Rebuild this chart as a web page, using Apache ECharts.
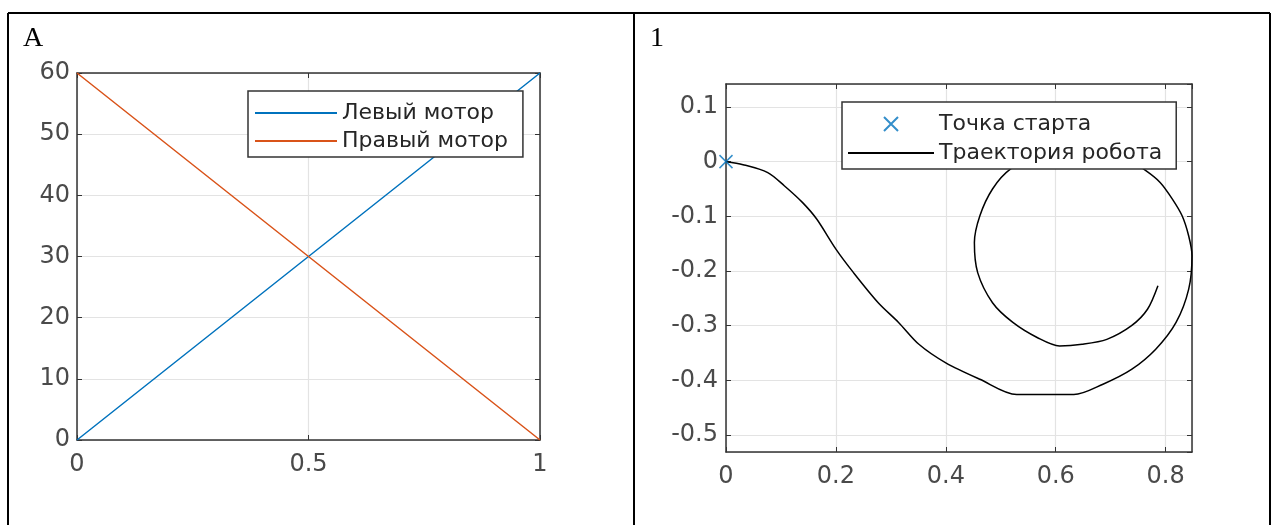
<!DOCTYPE html>
<html>
<head>
<meta charset="utf-8">
<script src="https://cdn.jsdelivr.net/npm/echarts@6/dist/echarts.min.js"></script>
<style>
  html, body { margin: 0; padding: 0; background: #fff; }
  #main { width: 1274px; height: 525px; }
</style>
</head>
<body>
<div id="main"></div>
<script>
// левый график: скорости моторов
var motorT = [0, 0.25, 0.5, 0.75, 1];
var leftMotor = [0, 15, 30, 45, 60];
var rightMotor = [60, 45, 30, 15, 0];

// правый график: траектория робота
var pathX = [0, 0.031, 0.076, 0.106, 0.139, 0.165, 0.2, 0.232, 0.277, 0.314, 0.351, 0.4, 0.462, 0.529,
  0.574, 0.633, 0.686, 0.738, 0.782, 0.819, 0.842, 0.848, 0.842, 0.83, 0.812, 0.79, 0.764, 0.72,
  0.645, 0.57, 0.518, 0.485, 0.462, 0.452, 0.458, 0.485, 0.522, 0.567, 0.607, 0.648, 0.693, 0.738,
  0.767, 0.786];
var pathY = [0, -0.0055, -0.02, -0.044, -0.0745, -0.105, -0.16, -0.203, -0.258, -0.294, -0.334, -0.368,
  -0.398, -0.426, -0.426, -0.426, -0.407, -0.38, -0.343, -0.294, -0.233, -0.172, -0.136, -0.099, -0.068,
  -0.038, -0.0165, 0.012, 0.028, 0.012, -0.0134, -0.05, -0.099, -0.148, -0.203, -0.258, -0.294, -0.322,
  -0.337, -0.334, -0.325, -0.3, -0.27, -0.227];
var startX = [0];
var startY = [0];

var legendLeft = ['Левый мотор', 'Правый мотор'];
var legendRight = ['Точка старта', 'Траектория робота'];

var font = 'DejaVu Sans';
var axisColor = '#333';
var labelColor = '#4a4a4a';
var gridColor = '#e3e3e3';
var tickFont = 24;

function mainAxis(idx, min, max, interval, pos, extra) {
  var a = {
    type: 'value', gridIndex: idx, min: min, max: max, position: pos,
    axisLine: { show: true, onZero: false, lineStyle: { color: axisColor, width: 1.5 } },
    axisTick: { show: true, inside: true, length: 5, lineStyle: { color: axisColor } },
    axisLabel: { color: labelColor, fontFamily: font, fontSize: tickFont, margin: pos === 'bottom' ? 13 : 7,
      showMinLabel: true, showMaxLabel: true },
    splitLine: { show: true, lineStyle: { color: gridColor, width: 1.2 } }
  };
  if (interval) a.interval = interval;
  return Object.assign(a, extra || {});
}
function boxAxis(idx, min, max, interval, pos, extra) {
  var a = {
    type: 'value', gridIndex: idx, min: min, max: max, position: pos,
    axisLine: { show: true, onZero: false, lineStyle: { color: axisColor, width: 1.5 } },
    axisTick: { show: true, inside: true, length: 5, lineStyle: { color: axisColor } },
    axisLabel: { show: false },
    splitLine: { show: false }
  };
  if (interval) a.interval = interval;
  return Object.assign(a, extra || {});
}
// в легенде у линий нет маркера
function lineItem(name) {
  return { name: name, itemStyle: { opacity: 0 } };
}

var chart = echarts.init(document.getElementById('main'));
chart.setOption({
  backgroundColor: '#fff',
  animation: false,
  title: [
    { text: 'A', left: 18, top: 20, textStyle: { fontFamily: 'Liberation Serif', fontSize: 28, fontWeight: 'normal', color: '#000' } },
    { text: '1', left: 645, top: 20, textStyle: { fontFamily: 'Liberation Serif', fontSize: 28, fontWeight: 'normal', color: '#000' } }
  ],
  graphic: [
    { type: 'line', shape: { x1: 8, y1: 13, x2: 1270, y2: 13 }, style: { stroke: '#000', lineWidth: 2 } },
    { type: 'line', shape: { x1: 8, y1: 13, x2: 8, y2: 525 }, style: { stroke: '#000', lineWidth: 2 } },
    { type: 'line', shape: { x1: 634, y1: 13, x2: 634, y2: 525 }, style: { stroke: '#000', lineWidth: 2 } },
    { type: 'line', shape: { x1: 1270, y1: 13, x2: 1270, y2: 525 }, style: { stroke: '#000', lineWidth: 2 } }
  ],
  grid: [
    { left: 77, top: 73, width: 463, height: 367 },
    { left: 726, top: 84, width: 466, height: 368 }
  ],
  legend: [
    {
      data: legendLeft.map(lineItem), orient: 'vertical', left: 248, top: 91,
      itemWidth: 82, itemHeight: 14, itemGap: 2,
      padding: [9, 15, 3, 6],
      borderColor: axisColor, borderWidth: 1.5, backgroundColor: '#fff',
      textStyle: { fontFamily: font, fontSize: 22, color: '#262626', lineHeight: 26 }
    },
    {
      data: [legendRight[0], lineItem(legendRight[1])], orient: 'vertical', left: 842, top: 102,
      itemWidth: 86, itemHeight: 14, itemGap: 3,
      padding: [9, 14, 3, 5],
      borderColor: axisColor, borderWidth: 1.5, backgroundColor: '#fff',
      textStyle: { fontFamily: font, fontSize: 22, color: '#262626', lineHeight: 26 }
    }
  ],
  xAxis: [
    mainAxis(0, 0, 1, 0.5, 'bottom'),
    boxAxis(0, 0, 1, 0.5, 'top'),
    mainAxis(1, 0, 0.848, 0.2, 'bottom', { axisLabel: { color: labelColor, fontFamily: font, fontSize: tickFont, margin: 13, showMaxLabel: false } }),
    boxAxis(1, 0, 0.848, 0.2, 'top')
  ],
  yAxis: [
    mainAxis(0, 0, 60, 10, 'left'),
    boxAxis(0, 0, 60, 10, 'right'),
    mainAxis(1, -0.531, 0.142, null, 'left', { splitNumber: 6,
      axisLabel: { color: labelColor, fontFamily: font, fontSize: tickFont, margin: 8, showMinLabel: false, showMaxLabel: false } }),
    boxAxis(1, -0.531, 0.142, null, 'right', { splitNumber: 6 })
  ],
  series: [
    {
      name: legendLeft[0], type: 'line', xAxisIndex: 0, yAxisIndex: 0, symbol: 'none',
      data: motorT.map(function (t, i) { return [t, leftMotor[i]]; }),
      lineStyle: { color: '#0072BD', width: 1.5 }, itemStyle: { color: '#0072BD' }
    },
    {
      name: legendLeft[1], type: 'line', xAxisIndex: 0, yAxisIndex: 0, symbol: 'none',
      data: motorT.map(function (t, i) { return [t, rightMotor[i]]; }),
      lineStyle: { color: '#D95319', width: 1.5 }, itemStyle: { color: '#D95319' }
    },
    {
      name: legendRight[0], type: 'scatter', xAxisIndex: 2, yAxisIndex: 2,
      symbol: 'path://M0,0L10,10M10,0L0,10', symbolSize: 13,
      data: startX.map(function (x, i) { return [x, startY[i]]; }),
      itemStyle: { color: 'rgba(0,0,0,0)', borderColor: '#0072BD', borderWidth: 1.5 },
      z: 5
    },
    {
      name: legendRight[1], type: 'line', xAxisIndex: 2, yAxisIndex: 2, symbol: 'none', smooth: 0.3,
      data: pathX.map(function (x, i) { return [x, pathY[i]]; }),
      lineStyle: { color: '#000', width: 1.5 }, itemStyle: { color: '#000' }
    }
  ]
});
</script>
</body>
</html>
